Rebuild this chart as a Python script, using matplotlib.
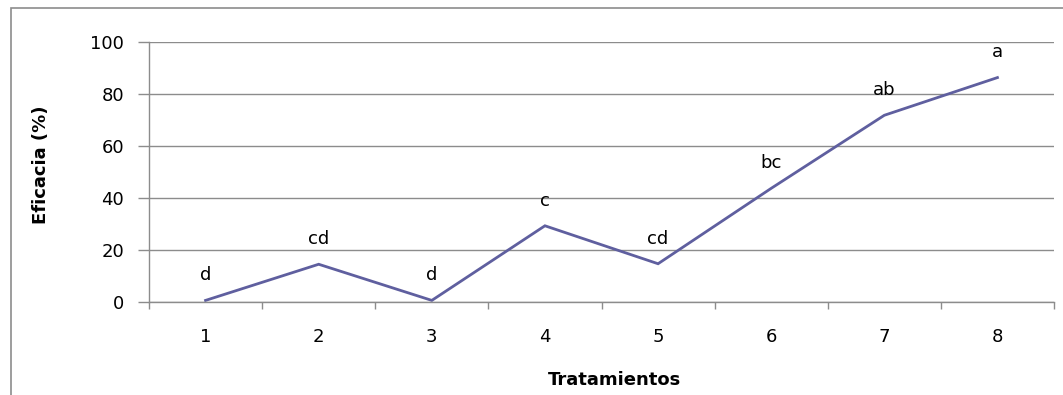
import matplotlib
matplotlib.use("Agg")
import matplotlib.pyplot as plt
from matplotlib.patches import Rectangle

tratamientos = [1, 2, 3, 4, 5, 6, 7, 8]
eficacia = [0.5, 14.4, 0.5, 29.2, 14.6, 43.6, 71.7, 86.2]
letras = ["d", "cd", "d", "c", "cd", "bc", "ab", "a"]
yticks = [0, 20, 40, 60, 80, 100]

W, H = 1063, 395
fig = plt.figure(figsize=(W / 100, H / 100), dpi=100)
plt.rcParams['font.family'] = ['DejaVu Sans']
FS = 13

# outer chart frame
fig.patches.append(Rectangle((11 / W, -0.05), 1.1, 1 - 8 / H + 0.05,
                             transform=fig.transFigure, fill=False,
                             edgecolor='#8c8c8c', linewidth=1.2))

ax = fig.add_axes([149 / W, 1 - 301.7 / H, (1054 - 149) / W, (301.7 - 41.7) / H])
grid_c = '#8c8c8c'
ax.plot(tratamientos, eficacia, color='#5f5f9f', linewidth=2.0, solid_joinstyle='miter')

for x, y, t in zip(tratamientos, eficacia, letras):
    ax.annotate(t, (x, y), xytext=(0, 14.5), textcoords='offset points',
                ha='center', va='baseline', fontsize=FS, color='black')

ax.set_xlim(0.5, 8.5)
ax.set_ylim(0, 100)
ax.set_yticks(yticks)
ax.set_xticks(tratamientos)
ax.set_xticklabels([str(t) for t in tratamientos])
ax.set_xticks([0.5 + k for k in range(9)], minor=True)
ax.yaxis.grid(True, color=grid_c, linewidth=1.0)
ax.set_axisbelow(True)
for s in ['top', 'right']:
    ax.spines[s].set_visible(False)
for s in ['left', 'bottom']:
    ax.spines[s].set_color(grid_c)
    ax.spines[s].set_linewidth(1.0)
ax.tick_params(axis='y', length=8, width=1.0, color=grid_c, pad=10, labelsize=FS)
ax.tick_params(axis='x', which='major', length=0, pad=19, labelsize=FS)
ax.tick_params(axis='x', which='minor', length=5, width=1.0, color=grid_c)

fig.text(41 / W, 1 - 165 / H, "Eficacia (%)", rotation=90, ha='center', va='center',
         fontsize=FS, fontweight='bold')
fig.text(614 / W, 1 - 380 / H, "Tratamientos", ha='center', va='center',
         fontsize=FS, fontweight='bold')

fig.savefig("out.png", dpi=100)
